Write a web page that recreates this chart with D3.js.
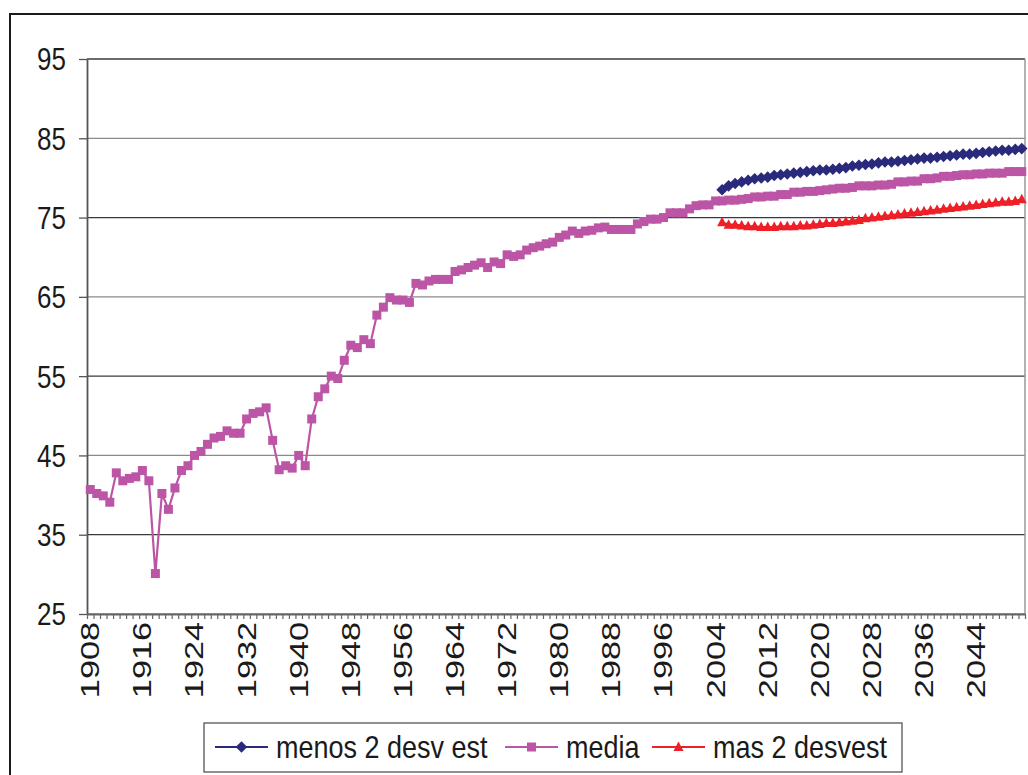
<!DOCTYPE html>
<html>
<head>
<meta charset="utf-8">
<script src="https://cdn.jsdelivr.net/npm/d3@7"></script>
<style>
    body { margin: 0; background: #fff; }
    svg { display: block; font-family: "Liberation Sans", Arial, sans-serif; }
</style>
</head>
<body>
<div id="chart"></div>
<script>

// Categories: one per year
let years = d3.range(1908, 2052);
let labelYears = years.filter(d => (d - 1908) % 8 === 0);
let projYears = d3.range(2005, 2052);

let yTicks = [25, 35, 45, 55, 65, 75, 85, 95];

// media, 1908 - 2051
let media = [
    40.7, 40.2, 39.9, 39.1, 42.8, 41.8, 42.1, 42.3, 43.1, 41.8,
    30.1, 40.2, 38.2, 40.9, 43.1, 43.7, 45.0, 45.5, 46.4, 47.2,
    47.4, 48.1, 47.8, 47.8, 49.6, 50.3, 50.5, 51.0, 46.9, 43.2,
    43.7, 43.4, 45.0, 43.7, 49.6, 52.4, 53.4, 55.0, 54.7, 57.0,
    58.9, 58.6, 59.6, 59.1, 62.7, 63.7, 64.9, 64.6, 64.6, 64.3,
    66.7, 66.5, 67.0, 67.2, 67.2, 67.2, 68.2, 68.4, 68.7, 69.0,
    69.3, 68.7, 69.4, 69.2, 70.3, 70.1, 70.3, 70.9, 71.2, 71.4,
    71.7, 71.9, 72.5, 72.8, 73.3, 73.0, 73.3, 73.4, 73.7, 73.8,
    73.5, 73.5, 73.5, 73.5, 74.2, 74.5, 74.8, 74.8, 75.0, 75.6,
    75.6, 75.6, 76.1, 76.5, 76.6, 76.6, 77.1, 77.1, 77.2, 77.2,
    77.3, 77.4, 77.6, 77.6, 77.7, 77.7, 77.9, 77.9, 78.2, 78.2,
    78.3, 78.3, 78.4, 78.5, 78.6, 78.7, 78.7, 78.8, 79.0, 79.0,
    79.0, 79.1, 79.1, 79.2, 79.5, 79.5, 79.6, 79.6, 79.9, 79.9,
    80.0, 80.2, 80.2, 80.3, 80.4, 80.4, 80.5, 80.5, 80.6, 80.6,
    80.6, 80.8, 80.8, 80.8
];

// menos 2 desv est, 2005 - 2051
let menos = [
    78.5, 79.0, 79.3, 79.5, 79.7, 79.9, 80.0, 80.1, 80.3, 80.4,
    80.5, 80.6, 80.7, 80.8, 80.9, 81.0, 81.0, 81.1, 81.2, 81.3,
    81.5, 81.6, 81.7, 81.75, 81.9, 82.0, 82.0, 82.1, 82.2, 82.3,
    82.4, 82.5, 82.5, 82.6, 82.7, 82.8, 82.9, 83.0, 83.0, 83.1,
    83.2, 83.3, 83.4, 83.5, 83.5, 83.6, 83.7
];

// mas 2 desvest, 2005 - 2051
let mas = [
    74.4, 74.1, 74.1, 74.0, 73.9, 73.9, 73.8, 73.8, 73.8, 73.9,
    73.9, 73.9, 74.0, 74.0, 74.1, 74.2, 74.3, 74.3, 74.4, 74.5,
    74.6, 74.7, 74.9, 75.0, 75.1, 75.2, 75.3, 75.4, 75.5, 75.6,
    75.7, 75.8, 75.9, 76.0, 76.1, 76.2, 76.3, 76.4, 76.5, 76.6,
    76.7, 76.8, 76.9, 77.0, 77.0, 77.1, 77.3
];

let seriesNames = ["menos 2 desv est", "media", "mas 2 desvest"];
let colors = ["#2a2a7c", "#bc55a6", "#ee1f26"];

// Marker shapes
let diamond = "M0,-5.8L5.8,0L0,5.8L-5.8,0Z";
let square = "M-4.5,-4.5L4.5,-4.5L4.5,4.5L-4.5,4.5Z";
let triangle = "M0,-5.5L5,4L-5,4Z";
let shapes = [diamond, square, triangle];

let width = 1028, height = 775;
let margin = {top: 59, right: 3, bottom: 161, left: 87};
let plotW = width - margin.left - margin.right;
let plotH = height - margin.top - margin.bottom;

let svg = d3.select("#chart").append("svg")
    .attr("width", width)
    .attr("height", height);

// Outer chart frame
svg.append("rect")
    .attr("x", 10).attr("y", 14)
    .attr("width", 1040).attr("height", 800)
    .attr("fill", "none")
    .attr("stroke", "#1a1a1a")
    .attr("stroke-width", 2);

let g = svg.append("g")
    .attr("transform", `translate(${margin.left}, ${margin.top})`);

// Scales
let x = d3.scaleBand()
    .domain(years)
    .range([0, plotW])
    .padding(0);
let xEdge = d3.scaleLinear()
    .domain([1908, 2052])
    .range([0, plotW]);
let y = d3.scaleLinear()
    .domain([25, 95])
    .range([plotH, 0]);

let cx = d => x(d) + x.bandwidth() / 2;

// Gridlines
g.selectAll(".grid")
    .data(yTicks)
    .enter()
    .append("line")
    .attr("class", "grid")
    .attr("x1", 0).attr("x2", plotW)
    .attr("y1", d => y(d)).attr("y2", d => y(d))
    .attr("stroke", (d, i) => i % 2 ? "#3a3a3a" : "#8a8a8a")
    .attr("stroke-width", 1.3);

// Right border of plot
g.append("line")
    .attr("x1", plotW).attr("x2", plotW)
    .attr("y1", 0).attr("y2", plotH)
    .attr("stroke", "#999").attr("stroke-width", 1.5);

// Y axis
let yAxis = d3.axisLeft(y)
    .tickValues(yTicks)
    .tickSize(8)
    .tickPadding(13)
    .tickSizeOuter(0);
let yG = g.append("g").attr("class", "y-axis").call(yAxis);
yG.select(".domain").attr("stroke", "#555").attr("stroke-width", 1.8);
yG.selectAll(".tick line").attr("stroke", "#555").attr("stroke-width", 1.3);
yG.selectAll(".tick text")
    .attr("fill", "#1a1a1a")
    .style("font-size", "26px")
    .attr("dy", "0.35em")
    .attr("transform", "scale(1, 1.2)");

// X axis: minor ticks on every year boundary
let xTickAxis = d3.axisBottom(xEdge)
    .tickValues(d3.range(1908, 2053))
    .tickFormat("")
    .tickSize(5)
    .tickSizeOuter(0);
let xT = g.append("g")
    .attr("transform", `translate(0, ${plotH})`)
    .call(xTickAxis);
xT.select(".domain").attr("stroke", "#666").attr("stroke-width", 1.8);
xT.selectAll(".tick line").attr("stroke", "#666").attr("stroke-width", 1.2);

// X axis labels, rotated
let xAxis = d3.axisBottom(x)
    .tickValues(labelYears)
    .tickSize(0)
    .tickSizeOuter(0);
let xG = g.append("g")
    .attr("transform", `translate(0, ${plotH})`)
    .call(xAxis);
xG.select(".domain").remove();
xG.selectAll(".tick text")
    .attr("x", 0).attr("y", 0)
    .attr("dy", "0.36em")
    .attr("text-anchor", "end")
    .attr("fill", "#1a1a1a")
    .style("font-size", "25px")
    .attr("transform", "translate(0, 8) scale(1, 1.37) rotate(-90)");

// Series
let series = [
    {name: seriesNames[0], years: projYears, values: menos},
    {name: seriesNames[1], years: years, values: media},
    {name: seriesNames[2], years: projYears, values: mas}
];

let line = d3.line()
    .x(d => cx(d.year))
    .y(d => y(d.value));

// Draw media under the projections
[1, 0, 2].forEach(k => {
    let s = series[k];
    let pts = s.years.map((yr, i) => ({year: yr, value: s.values[i]}));

    g.append("path")
        .datum(pts)
        .attr("fill", "none")
        .attr("stroke", colors[k])
        .attr("stroke-width", 2.2)
        .attr("d", line);

    g.selectAll(".mark-" + k)
        .data(pts)
        .enter()
        .append("path")
        .attr("class", "mark-" + k)
        .attr("d", shapes[k])
        .attr("fill", colors[k])
        .attr("transform", d => `translate(${cx(d.year)}, ${y(d.value)})`);
});

// Legend
let legend = svg.append("g");
legend.append("rect")
    .attr("x", 204).attr("y", 723)
    .attr("width", 698).attr("height", 49)
    .attr("fill", "#fff")
    .attr("stroke", "#555")
    .attr("stroke-width", 1.3);

let legendX = [215, 505, 652];
seriesNames.forEach((name, k) => {
    let lg = legend.append("g")
        .attr("transform", `translate(${legendX[k]}, 747)`);
    lg.append("line")
        .attr("x1", 0).attr("x2", 53)
        .attr("stroke", colors[k])
        .attr("stroke-width", 2);
    lg.append("path")
        .attr("d", shapes[k])
        .attr("fill", colors[k])
        .attr("transform", "translate(26.5, 0)");
    lg.append("text")
        .attr("x", 61)
        .attr("dy", "0.36em")
        .attr("fill", "#1a1a1a")
        .style("font-size", "27px")
        .attr("transform", "scale(1, 1.15)")
        .text(name);
});

</script>
</body>
</html>
